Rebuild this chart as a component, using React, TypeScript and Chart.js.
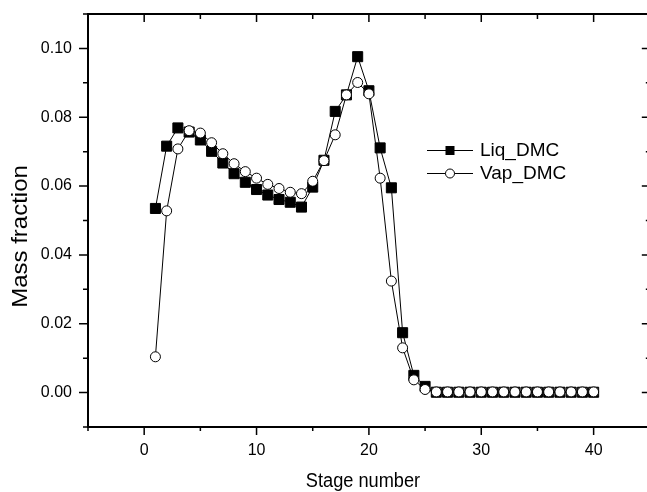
import { useEffect, useRef } from "react";
import { Chart, registerables } from "chart.js";

Chart.register(...registerables);

const FONT = "'Liberation Sans', Arial, Helvetica, sans-serif";

// Stage numbers 1..40
const stages = [
  1, 2, 3, 4, 5, 6, 7, 8, 9, 10,
  11, 12, 13, 14, 15, 16, 17, 18, 19, 20,
  21, 22, 23, 24, 25, 26, 27, 28, 29, 30,
  31, 32, 33, 34, 35, 36, 37, 38, 39, 40,
];

// Liquid-phase DMC mass fraction per stage
const liqDMC = [
  0.0535, 0.0716, 0.0769, 0.0757, 0.0734, 0.0701, 0.0667, 0.0636, 0.0611, 0.059,
  0.0574, 0.0561, 0.0553, 0.0539, 0.0597, 0.0675, 0.0817, 0.0865, 0.0976, 0.0877,
  0.0711, 0.0595, 0.0174, 0.005, 0.0018, 0.0001, 0.0001, 0.0001, 0.0001, 0.0001,
  0.0001, 0.0001, 0.0001, 0.0001, 0.0001, 0.0001, 0.0001, 0.0001, 0.0001, 0.0001,
];

// Vapour-phase DMC mass fraction per stage
const vapDMC = [
  0.0104, 0.0528, 0.0708, 0.0761, 0.0754, 0.0726, 0.0694, 0.0665, 0.0642, 0.0623,
  0.0605, 0.0593, 0.0582, 0.0578, 0.0614, 0.0674, 0.0749, 0.0865, 0.0901, 0.0868,
  0.0623, 0.0324, 0.013, 0.0037, 0.0009, 0.0002, 0.0002, 0.0002, 0.0002, 0.0002,
  0.0002, 0.0002, 0.0002, 0.0002, 0.0002, 0.0002, 0.0002, 0.0002, 0.0002, 0.0002,
];

// Labelled (major) ticks
const xTickLabels = [0, 10, 20, 30, 40];
const yTickLabels = [0.0, 0.02, 0.04, 0.06, 0.08, 0.1];

// All tick positions (major + minor)
const xTickValues = [-5, 0, 5, 10, 15, 20, 25, 30, 35, 40];
const yTickValues = [
  -0.01, 0.0, 0.01, 0.02, 0.03, 0.04, 0.05, 0.06, 0.07, 0.08, 0.09, 0.1, 0.11,
];

// Axis frame: x runs -5..45, the right-hand edge sits just past the canvas
const X_MIN = -5;
const X_FRAME_MAX = 45;
const X_VISIBLE_MAX = 44.75;
const Y_MIN = -0.01;
const Y_MAX = 0.11;

const seriesNames = ["Liq_DMC", "Vap_DMC"];

const isXMajor = (v: number) => xTickLabels.some((t) => Math.abs(t - v) < 1e-6);
const isYMajor = (v: number) => yTickLabels.some((t) => Math.abs(t - v) < 1e-6);

const framePlugin = {
  id: "originFrame",
  afterDraw(chart: any) {
    const { ctx, chartArea: a, scales } = chart;
    const xs = scales.x;
    const ys = scales.y;
    const right = xs.getPixelForValue(X_FRAME_MAX);
    ctx.save();
    ctx.strokeStyle = "#000";
    ctx.fillStyle = "#000";

    // axis box (left, bottom, top, right)
    ctx.lineWidth = 2;
    ctx.strokeRect(a.left, a.top, right - a.left, a.bottom - a.top);

    // tick marks: outward on bottom/left, inward on top/right
    ctx.lineWidth = 1.5;
    ctx.beginPath();
    xTickValues.forEach((v) => {
      const px = xs.getPixelForValue(v);
      const major = isXMajor(v);
      ctx.moveTo(px, a.bottom);
      ctx.lineTo(px, a.bottom + (major ? 8 : 4));
      ctx.moveTo(px, a.top);
      ctx.lineTo(px, a.top + (major ? 8 : 5));
    });
    yTickValues.forEach((v) => {
      const py = ys.getPixelForValue(v);
      const major = isYMajor(v);
      ctx.moveTo(a.left, py);
      ctx.lineTo(a.left - (major ? 9 : 5), py);
      ctx.moveTo(right, py);
      ctx.lineTo(right - (major ? 8 : 4), py);
    });
    ctx.stroke();

    // axis titles
    ctx.textAlign = "center";
    ctx.textBaseline = "middle";
    ctx.save();
    ctx.translate(363, 481);
    ctx.scale(0.91, 1);
    ctx.font = `20px ${FONT}`;
    ctx.fillText("Stage number", 0, 0);
    ctx.restore();

    ctx.save();
    ctx.translate(20.5, 236.5);
    ctx.rotate(-Math.PI / 2);
    ctx.scale(1, 0.91);
    ctx.font = `24px ${FONT}`;
    ctx.fillText("Mass fraction", 0, 0);
    ctx.restore();

    // legend
    const rows = [150, 173];
    ctx.font = `19px ${FONT}`;
    ctx.textAlign = "left";
    rows.forEach((ry, i) => {
      ctx.lineWidth = 1;
      ctx.strokeStyle = "#000";
      ctx.beginPath();
      ctx.moveTo(427, ry + 0.5);
      ctx.lineTo(473, ry + 0.5);
      ctx.stroke();
      if (i === 0) {
        ctx.fillStyle = "#000";
        ctx.fillRect(445.5, ry - 4, 9, 9);
      } else {
        ctx.beginPath();
        ctx.arc(450, ry + 0.5, 4.5, 0, Math.PI * 2);
        ctx.fillStyle = "#fff";
        ctx.fill();
        ctx.stroke();
      }
      ctx.fillStyle = "#000";
      ctx.fillText(seriesNames[i], 480, ry + 1);
    });

    ctx.restore();
  },
};

export default function App() {
  const canvasRef = useRef<HTMLCanvasElement | null>(null);

  useEffect(() => {
    const canvas = canvasRef.current;
    if (!canvas) return;
    const chart = new Chart(canvas, {
      type: "line",
      data: {
        datasets: [
          {
            label: seriesNames[0],
            data: stages.map((s, i) => ({ x: s, y: liqDMC[i] })),
            borderColor: "#000",
            borderWidth: 1,
            pointStyle: "rect",
            pointRadius: 7.1,
            pointBorderWidth: 1,
            pointBorderColor: "#000",
            pointBackgroundColor: "#000",
            tension: 0,
            order: 1,
          },
          {
            label: seriesNames[1],
            data: stages.map((s, i) => ({ x: s, y: vapDMC[i] })),
            borderColor: "#000",
            borderWidth: 1,
            pointStyle: "circle",
            pointRadius: 5,
            pointBorderWidth: 1,
            pointBorderColor: "#000",
            pointBackgroundColor: "#fff",
            tension: 0,
            order: 0,
          },
        ],
      },
      options: {
        animation: false,
        responsive: false,
        devicePixelRatio: 1,
        layout: { autoPadding: false, padding: { top: 14, right: 0, left: 0, bottom: 0 } },
        plugins: { legend: { display: false }, tooltip: { enabled: false } },
        scales: {
          x: {
            type: "linear",
            min: X_MIN,
            max: X_VISIBLE_MAX,
            grid: { display: false, drawTicks: false },
            border: { display: false },
            afterBuildTicks: (s: any) => {
              s.ticks = xTickValues.map((v) => ({ value: v }));
            },
            ticks: {
              autoSkip: false,
              maxRotation: 0,
              padding: 14,
              color: "#000",
              font: { family: FONT, size: 16 },
              callback: (v: any) => (isXMajor(Number(v)) ? String(Math.round(Number(v))) : ""),
            },
            afterFit: (s: any) => {
              s.height = 65;
              s.paddingLeft = 0;
              s.paddingRight = 0;
            },
          },
          y: {
            type: "linear",
            min: Y_MIN,
            max: Y_MAX,
            grid: { display: false, drawTicks: false },
            border: { display: false },
            afterBuildTicks: (s: any) => {
              s.ticks = yTickValues.map((v) => ({ value: v }));
            },
            ticks: {
              autoSkip: false,
              padding: 16,
              color: "#000",
              font: { family: FONT, size: 16 },
              callback: (v: any) => (isYMajor(Number(v)) ? Number(v).toFixed(2) : ""),
            },
            afterFit: (s: any) => {
              s.width = 88;
              s.paddingTop = 0;
              s.paddingBottom = 0;
            },
          },
        },
      },
      plugins: [framePlugin],
    });
    return () => chart.destroy();
  }, []);

  return (
    <div style={{ position: "fixed", left: 0, top: 0, width: 647, height: 492, overflow: "hidden", background: "#fff" }}>
      <canvas ref={canvasRef} width={647} height={492} style={{ display: "block" }} />
    </div>
  );
}
